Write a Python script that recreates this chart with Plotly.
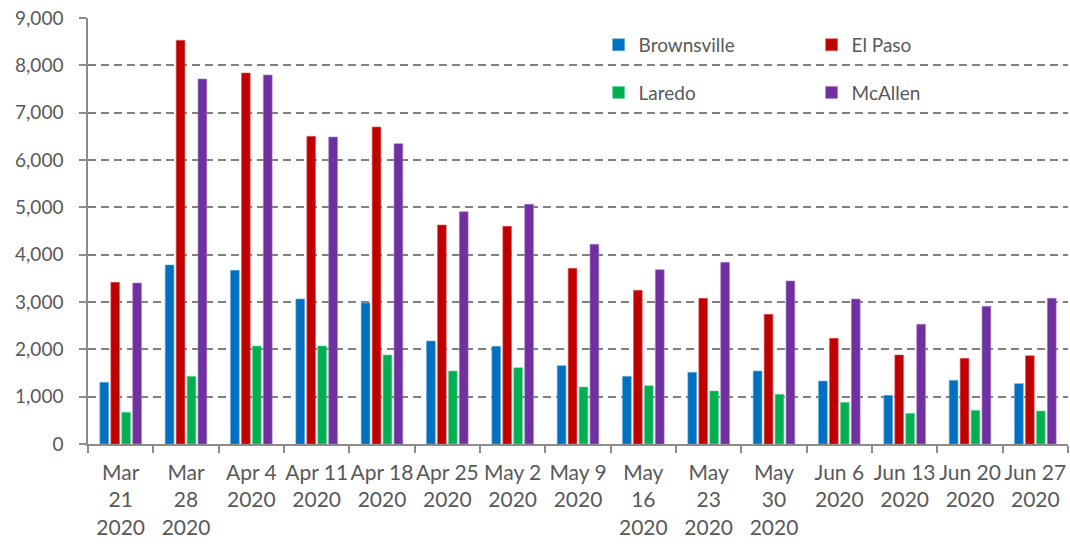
import plotly.graph_objects as go

categories = ["Mar<br>21<br>2020", "Mar<br>28<br>2020", "Apr 4<br>2020", "Apr 11<br>2020",
              "Apr 18<br>2020", "Apr 25<br>2020", "May 2<br>2020", "May 9<br>2020",
              "May<br>16<br>2020", "May<br>23<br>2020", "May<br>30<br>2020", "Jun 6<br>2020",
              "Jun 13<br>2020", "Jun 20<br>2020", "Jun 27<br>2020"]

brownsville = [1303, 3782, 3669, 3063, 2979, 2176, 2063, 1655, 1430, 1514, 1542, 1331, 1028, 1345, 1275]
el_paso     = [3416, 8529, 7838, 6500, 6697, 4627, 4599, 3711, 3247, 3078, 2740, 2233, 1880, 1810, 1866]
laredo      = [669, 1430, 2070, 2070, 1880, 1542, 1612, 1204, 1232, 1120, 1050, 880, 648, 711, 697]
mcallen     = [3401, 7711, 7796, 6486, 6345, 4908, 5064, 4219, 3683, 3838, 3444, 3063, 2528, 2908, 3078]

series = [
    ("Brownsville", brownsville, "#0070C0", "#5FA8DC", "legend"),
    ("El Paso", el_paso, "#C00000", "#E06060", "legend"),
    ("Laredo", laredo, "#00B050", "#66D49A", "legend2"),
    ("McAllen", mcallen, "#7030A0", "#A77CC8", "legend2"),
]

FONT = "Lato, 'Open Sans', sans-serif"
GRAY = "#595959"

fig = go.Figure()
for name, vals, color, edge, lg in series:
    fig.add_trace(go.Bar(
        x=categories, y=vals, name=name,
        marker=dict(color=color, line=dict(color=edge, width=0.6)),
        legend=lg,
    ))

legend_common = dict(
    orientation="h", xanchor="left", yanchor="middle",
    font=dict(family=FONT, size=19, color=GRAY),
    bgcolor="rgba(0,0,0,0)", entrywidth=168, entrywidthmode="pixels",
    itemclick=False, itemdoubleclick=False,
)

fig.update_layout(
    width=1070, height=548,
    margin=dict(l=88, r=2, t=18, b=104, autoexpand=False),
    paper_bgcolor="white", plot_bgcolor="white",
    barmode="group", bargap=0.33, bargroupgap=0.2,
    font=dict(family=FONT, size=18, color=GRAY),
    legend=dict(x=0.521, y=0.937, **legend_common),
    legend2=dict(x=0.521, y=0.825, **legend_common),
    xaxis=dict(
        type="category", showgrid=False, automargin=False, tickangle=0,
        showline=True, linecolor="#8c8c8c", linewidth=1.5,
        ticks="outside", tickson="boundaries", ticklen=7, tickcolor="#8c8c8c", tickwidth=1.5,
        tickfont=dict(family=FONT, size=21, color=GRAY),
        ticklabelstandoff=9,
    ),
    yaxis=dict(
        range=[0, 9000], dtick=1000, tickformat=",d", automargin=False,
        showgrid=True, gridcolor="#808080", gridwidth=2, griddash="8px,5px",
        showline=True, linecolor="#8c8c8c", linewidth=1.5,
        ticks="outside", ticklen=7, tickcolor="#8c8c8c", tickwidth=1.5,
        tickfont=dict(family=FONT, size=19, color=GRAY),
        zeroline=False, ticklabelstandoff=12,
    ),
)

fig.write_html("out.html")
